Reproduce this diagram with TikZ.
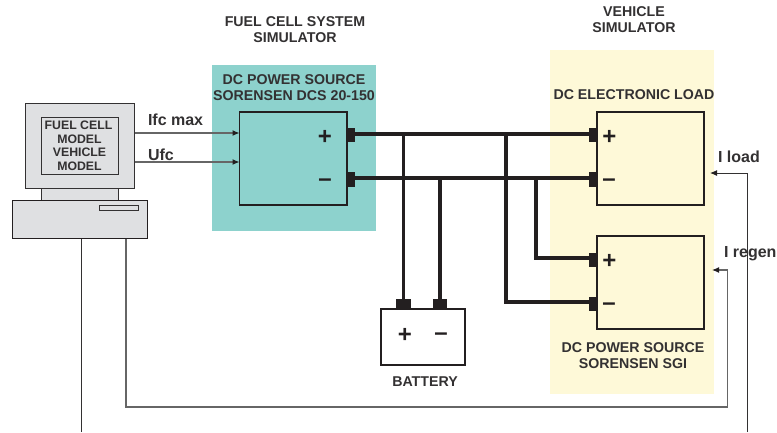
\documentclass[tikz,border=0pt]{standalone}
\usepackage{fontspec}
\setmainfont{Liberation Sans}
\usetikzlibrary{arrows.meta}
\definecolor{teal1}{HTML}{8DD2CD}
\definecolor{yel1}{HTML}{FEF9D8}
\definecolor{gray1}{HTML}{DFE0E2}
\definecolor{ink}{HTML}{231F20}
\definecolor{txt}{HTML}{333132}
\tikzset{
  x=1pt,y=-1pt,
  every node/.append style={outer sep=0pt},
  lbl/.style={font=\bfseries\fontsize{14.2}{15.5}\selectfont,text=txt,align=center,inner sep=0pt},
  big/.style={font=\bfseries\fontsize{16}{18}\selectfont,text=txt,inner sep=0pt,anchor=west},
  sign/.style={font=\bfseries\fontsize{24}{24}\selectfont,text=ink,inner sep=0pt},
  unit/.style={draw=ink,line width=1.5pt,fill=#1,inner sep=0pt,anchor=north west},
  pc/.style={draw=txt,line width=0.9pt,fill=gray1,inner sep=0pt,anchor=north west},
  term/.style={fill=ink,inner sep=0pt,minimum width=#1},
  bus/.style={draw=ink,line width=3.6pt},
  sig/.style={draw=black!60,line width=1.1pt},
  sigdark/.style={draw=txt,line width=1pt},
  tip/.style={-{Latex[length=7pt,width=6pt,color=ink]}}
}
\begin{document}
\begin{tikzpicture}
\useasboundingbox (0,0) rectangle (777,432);
% background panels
\node[fill=teal1,inner sep=0pt,anchor=north west,minimum width=164pt,minimum height=166pt] (tealpanel) at (212,65) {};
\node[fill=yel1,inner sep=0pt,anchor=north west,minimum width=164pt,minimum height=344pt] (yelpanel) at (550,50) {};
% computer
\node[pc,minimum width=109pt,minimum height=84.5pt] (monitor) at (25.5,103.5) {};
\node[pc,minimum width=77pt,minimum height=12pt] (neck) at (41,188) {};
\node[pc,draw=ink,minimum width=134.5pt,minimum height=38.5pt] (base) at (12.5,200) {};
\node[pc,minimum width=39pt,minimum height=5pt] (slot) at (99.5,205.5) {};
\node[pc,minimum width=77pt,minimum height=56.5pt,text=txt,align=center,font=\bfseries\fontsize{12.3}{13.5}\selectfont] (screen) at (41,117.5) {\hspace*{-2pt}FUEL CELL\\MODEL\\VEHICLE\\MODEL};
% units
\node[unit=teal1,minimum width=107.5pt,minimum height=93pt] (dcs) at (239.5,112) {};
\node[unit=yel1,minimum width=107pt,minimum height=93pt] (load) at (597,112) {};
\node[unit=yel1,minimum width=107pt,minimum height=93pt] (sgi) at (597,236) {};
\node[unit=white,minimum width=84pt,minimum height=56pt] (batt) at (381,309) {};
% terminals
\node[term=9pt,minimum height=14.5pt] (dp) at (350.5,135) {};
\node[term=9pt,minimum height=14.5pt] (dm) at (350.5,179.5) {};
\node[term=9pt,minimum height=14.5pt] (lp) at (593.5,135) {};
\node[term=9pt,minimum height=14.5pt] (lm) at (593.5,179.5) {};
\node[term=9pt,minimum height=14.5pt] (sp) at (593.5,260) {};
\node[term=9pt,minimum height=14.5pt] (sm) at (593.5,304) {};
\node[term=14.5pt,minimum height=10pt] (bp) at (403.5,304) {};
\node[term=14.5pt,minimum height=10pt] (bm) at (440,304) {};
% bus wires
\coordinate (j1) at (403.5,134);
\coordinate (j2) at (440,178);
\coordinate (j3) at (506,134);
\coordinate (j4) at (536,178);
\draw[bus] (dp.center |- 0,134) -- (lp.center |- 0,134);
\draw[bus] (dm.center |- 0,178) -- (lm.center |- 0,178);
\draw[bus] (j1) -- (bp.center);
\draw[bus] (j2) -- (bm.center);
\draw[bus] (j3) -- (506,302) -- (sm.center |- 0,302);
\draw[bus] (j4) -- (536,258) -- (sp.center |- 0,258);
% signal wires
\coordinate (ifcA) at (134.5,133);
\coordinate (ufcA) at (134.5,162);
\coordinate (ltip) at (710,173);
\coordinate (rtip) at (712,270);
\coordinate (lfree) at (747,432);
\coordinate (pcfree) at (81.5,432);
\draw[sig,tip] (ifcA) -- (ifcA -| dcs.west);
\draw[sig,tip] (ufcA) -- (ufcA -| dcs.west);
\draw[sigdark] (81.5,238.5) -- (pcfree);
\draw[sig,tip] (126,238.5) -- (126,407) -- (727.5,407) -- (727.5,270) -- (rtip);
\draw[sigdark,tip] (lfree) -- (747,173) -- (ltip);
% signs
\node[sign] (s1) at (325,137.5) {+};
\node[sign] (s2) at (325,183) {–};
\node[sign] (s3) at (609.5,137) {+};
\node[sign] (s4) at (609,183) {–};
\node[sign] (s5) at (609.5,261) {+};
\node[sign] (s6) at (609,307) {–};
\node[sign] (s7) at (405,335) {+};
\node[sign] (s8) at (441,337) {–};
% labels
\node[lbl] (t1) at (295,29.5) {FUEL CELL SYSTEM\\SIMULATOR};
\node[lbl] (t2) at (634,19.5) {VEHICLE\\SIMULATOR};
\node[lbl] (t3) at (294,87.5) {DC POWER SOURCE\\SORENSEN DCS 20-150};
\node[lbl] (t4) at (634,95) {DC ELECTRONIC LOAD};
\node[lbl] (t5) at (633,355.5) {DC POWER SOURCE\\SORENSEN SGI};
\node[lbl] (t6) at (425,381.5) {BATTERY};
\node[big] (t7) at (148,120) {Ifc max};
\node[big] (t8) at (148,155) {Ufc};
\node[big] (t9) at (718,156.5) {I load};
\node[big] (t10) at (724,254) {I regen};
\end{tikzpicture}
\end{document}
